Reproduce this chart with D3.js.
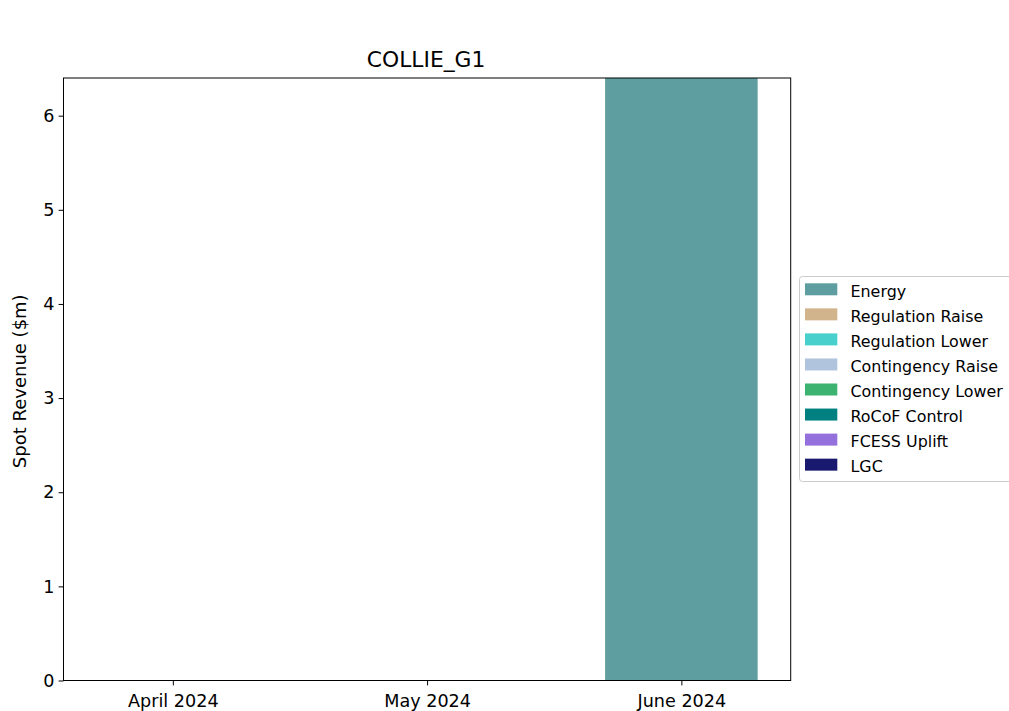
<!DOCTYPE html>
<html>
<head>
<meta charset="utf-8">
<script src="https://cdn.jsdelivr.net/npm/d3@7"></script>
<style>
html,body{margin:0;padding:0;background:#fff;}
svg{display:block;font-family:"DejaVu Sans",sans-serif;}
</style>
</head>
<body>
<svg id="chart" width="1009" height="711"></svg>
<script>
const title = "COLLIE_G1";
const yLabel = "Spot Revenue ($m)";
const months = ["April 2024", "May 2024", "June 2024"];
const seriesNames = ["Energy","Regulation Raise","Regulation Lower","Contingency Raise","Contingency Lower","RoCoF Control","FCESS Uplift","LGC"];
const seriesColors = ["#5F9EA0","#D2B48C","#48D1CC","#B0C4DE","#3CB371","#008080","#9370DB","#191970"];
const energy = [0, 0, 6.40];
const regulationRaise = [0, 0, 0];
const regulationLower = [0, 0, 0];
const contingencyRaise = [0, 0, 0];
const contingencyLower = [0, 0, 0];
const rocofControl = [0, 0, 0];
const fcessUplift = [0, 0, 0];
const lgc = [0, 0, 0];
const yTicks = [0, 1, 2, 3, 4, 5, 6];
const yMax = 6.40;

const seriesValues = [energy, regulationRaise, regulationLower, contingencyRaise, contingencyLower, rocofControl, fcessUplift, lgc];

const svg = d3.select("#chart");
const L = 63.5, R = 790.7, T = 78, B = 680.5;

const x = d3.scaleLinear().domain([-0.43, 2.43]).range([L, R]);
const y = d3.scaleLinear().domain([0, yMax]).range([B, T]);
const barW = 0.6;

const table = months.map((m, i) => {
  const o = {month: m, idx: i};
  seriesNames.forEach((s, j) => o[s] = seriesValues[j][i]);
  return o;
});
const stack = d3.stack().keys(seriesNames)(table);

const g = svg.append("g");
stack.forEach((layer, j) => {
  g.selectAll(null).data(layer).enter().append("rect")
    .attr("x", d => x(d.data.idx - barW/2))
    .attr("width", d => x(d.data.idx + barW/2) - x(d.data.idx - barW/2))
    .attr("y", d => y(d[1]))
    .attr("height", d => Math.max(0, y(d[0]) - y(d[1])))
    .attr("fill", seriesColors[j]);
});

const xAxis = d3.axisBottom(x).tickValues([0,1,2]).tickFormat(i => months[i]).tickSize(4.9).tickPadding(4);
const yAxis = d3.axisLeft(y).tickValues(yTicks).tickFormat(d3.format("d")).tickSize(4.9).tickPadding(4);
const xa = svg.append("g").attr("transform", `translate(0,${B})`).call(xAxis);
const ya = svg.append("g").attr("transform", `translate(${L},0)`).call(yAxis);
[xa, ya].forEach(a => {
  a.select(".domain").remove();
  a.selectAll("text").attr("font-size", 17.6).attr("fill", "#000").attr("font-family", "DejaVu Sans");
  a.selectAll("line").attr("stroke", "#000").attr("stroke-width", 1);
});
xa.selectAll("text").attr("dy", null).attr("y", 26.5);
ya.selectAll("text").attr("x", -9);

svg.append("rect").attr("x", L).attr("y", T).attr("width", R - L).attr("height", B - T)
  .attr("fill", "none").attr("stroke", "#000").attr("stroke-width", 1);

svg.append("text").attr("x", (L + R) / 2 - 1).attr("y", 67).attr("text-anchor", "middle")
  .attr("font-size", 21.8).attr("fill", "#000").text(title);

svg.append("text").attr("transform", `translate(25.5,${(T + B) / 2 + 2}) rotate(-90)`)
  .attr("text-anchor", "middle").attr("font-size", 18).attr("fill", "#000").text(yLabel);

const lg = svg.append("g");
lg.append("rect").attr("x", 799.5).attr("y", 276.5).attr("width", 220).attr("height", 205)
  .attr("rx", 3).attr("fill", "#fff").attr("fill-opacity", 0.8).attr("stroke", "#cccccc").attr("stroke-width", 1);
seriesNames.forEach((s, j) => {
  const cy = 289.3 + j * 25.05;
  lg.append("rect").attr("x", 805).attr("y", cy - 6).attr("width", 32.3).attr("height", 12).attr("fill", seriesColors[j]);
  lg.append("text").attr("x", 850.5).attr("y", cy + 7.8).attr("font-size", 15.9).attr("fill", "#000").text(s);
});
</script>
</body>
</html>
